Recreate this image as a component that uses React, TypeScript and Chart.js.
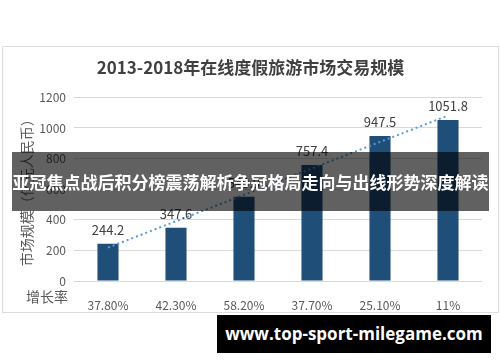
import { useEffect, useRef } from 'react';
import { Chart, registerables } from 'chart.js';

Chart.register(...registerables);

const categories = ['2013', '2014', '2015', '2016', '2017', '2018'];
const growthLabels = ['37.80%', '42.30%', '58.20%', '37.70%', '25.10%', '11%'];
const marketSize = [244.2, 347.6, 549.9, 757.4, 947.5, 1051.8];
const trendValues = [218, 391, 563, 736, 909, 1081];
const valueLabels = ['244.2', '347.6', '549.9', '757.4', '947.5', '1051.8'];
const yMin = 0;
const yMax = 1200;
const yStep = 200;

const titleText = '2013-2018年在线度假旅游市场交易规模';
const yTitle = '市场规模（亿元人民币）';
const xRowTitle = '增长率';
const bannerText = '亚冠焦点战后积分榜震荡解析争冠格局走向与出线形势深度解读';
const watermarkText = 'www.top-sport-milegame.com';

const FONT = '"Noto Sans CJK SC", "Noto Sans", sans-serif';

const labelPlugin = {
  id: 'valueLabels',
  afterDatasetsDraw(chart: any) {
    const ctx = chart.ctx;
    const meta = chart.getDatasetMeta(1);
    ctx.save();
    ctx.font = `13px ${FONT}`;
    ctx.fillStyle = '#404040';
    ctx.textAlign = 'center';
    ctx.textBaseline = 'middle';
    meta.data.forEach((bar: any, i: number) => {
      ctx.fillText(valueLabels[i], bar.x, bar.y - 14);
    });
    const xs = chart.scales.x;
    ctx.font = `14px ${FONT}`;
    ctx.fillStyle = '#595959';
    ctx.textAlign = 'right';
    ctx.fillText(xRowTitle, chart.chartArea.left - 6, xs.top + 16);
    ctx.restore();
  },
};

export default function App() {
  const ref = useRef<HTMLCanvasElement>(null);
  useEffect(() => {
    const chart = new Chart(ref.current!, {
      type: 'bar',
      data: {
        labels: growthLabels,
        datasets: [
          {
            type: 'line',
            label: 'trend',
            data: trendValues,
            borderColor: '#5b9bd5',
            borderWidth: 2,
            borderDash: [2, 3],
            pointRadius: 0,
            fill: false,
            order: 0,
          } as any,
          {
            type: 'bar',
            label: categories.join(','),
            data: marketSize,
            backgroundColor: '#1f4e79',
            barPercentage: 0.31,
            categoryPercentage: 1,
            order: 1,
          },
        ],
      },
      options: {
        responsive: false,
        devicePixelRatio: 1,
        animation: false,
        layout: { padding: 0 },
        plugins: {
          legend: { display: false },
          tooltip: { enabled: false },
          title: {
            display: true,
            text: titleText,
            color: '#404040',
            font: { family: FONT, size: 17, weight: 'bold' },
            padding: { top: 10, bottom: 20 },
          },
        },
        scales: {
          x: {
            grid: { display: false },
            border: { display: false },
            ticks: { color: '#595959', font: { family: FONT, size: 12 }, padding: 9 },
            afterFit: (s: any) => { s.height = 31; },
          },
          y: {
            min: yMin,
            max: yMax,
            ticks: {
              stepSize: yStep,
              color: '#595959',
              font: { family: FONT, size: 12 },
              padding: 8,
              callback: (v: any) => String(v),
            },
            grid: { color: '#d9d9d9', drawTicks: false },
            border: { display: false },
            title: {
              display: true,
              text: yTitle,
              color: '#595959',
              font: { family: FONT, size: 14 },
              padding: { top: 15, bottom: 0 },
            },
            afterFit: (s: any) => { s.width = 71; },
          },
          yPad: {
            type: 'linear',
            position: 'right',
            display: true,
            min: yMin,
            max: yMax,
            grid: { display: false },
            border: { display: false },
            ticks: { display: false },
            afterFit: (s: any) => { s.width = 16; },
          },
        },
      } as any,
      plugins: [labelPlugin],
    });
    return () => chart.destroy();
  }, []);

  return (
    <div style={{ position: 'absolute', left: 0, top: 0, width: 500, height: 362, background: '#fff', overflow: 'hidden' }}>
      <div style={{ position: 'absolute', left: 2, top: 46, width: 495, height: 265, border: '1px solid #dcdcdc' }}>
        <canvas ref={ref} width={495} height={265} style={{ display: 'block', width: 495, height: 265 }} />
      </div>
      <div
        style={{
          position: 'absolute', left: 12, top: 152, width: 477, height: 59,
          background: 'rgba(0,0,0,0.62)', color: '#fff', fontFamily: FONT, fontWeight: 'bold',
          fontSize: 17, lineHeight: '59px', textAlign: 'center', whiteSpace: 'nowrap', overflow: 'hidden',
        }}
      >
        {bannerText}
      </div>
      <div
        style={{
          position: 'absolute', left: 217, top: 315, width: 274, height: 38,
          background: '#000', color: '#fff', fontFamily: '"Open Sans", sans-serif', fontWeight: 'bold',
          fontSize: 17, lineHeight: '38px', textAlign: 'center', whiteSpace: 'nowrap',
        }}
      >
        {watermarkText}
      </div>
    </div>
  );
}
